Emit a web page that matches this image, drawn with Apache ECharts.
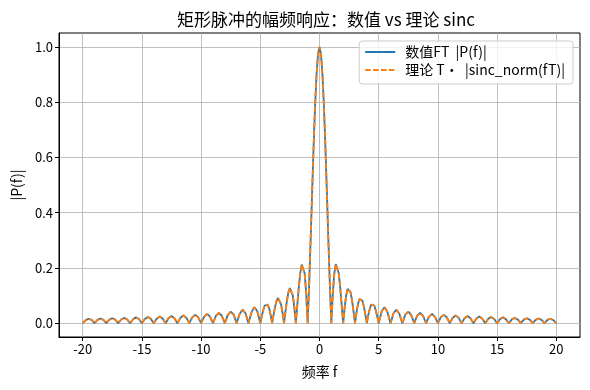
<!DOCTYPE html>
<html>
<head>
<meta charset="utf-8">
<script src="https://cdn.jsdelivr.net/npm/echarts@6/dist/echarts.min.js"></script>
<style>html,body{margin:0;padding:0;background:#fff}#c{width:590px;height:390px}</style>
</head>
<body>
<div id="c"></div>
<script>
const freqs = [
-20,-19.75,-19.5,-19.25,-19,-18.75,-18.5,-18.25,-18,-17.75,-17.5,-17.25,-17,-16.75,-16.5,-16.25,-16,-15.75,-15.5,-15.25,
-15,-14.75,-14.5,-14.25,-14,-13.75,-13.5,-13.25,-13,-12.75,-12.5,-12.25,-12,-11.75,-11.5,-11.25,-11,-10.75,-10.5,-10.25,
-10,-9.75,-9.5,-9.25,-9,-8.75,-8.5,-8.25,-8,-7.75,-7.5,-7.25,-7,-6.75,-6.5,-6.25,-6,-5.75,-5.5,-5.25,
-5,-4.875,-4.75,-4.625,-4.5,-4.375,-4.25,-4.125,-4,-3.875,-3.75,-3.625,-3.5,-3.375,-3.25,-3.125,
-3,-2.875,-2.75,-2.625,-2.5,-2.375,-2.25,-2.125,-2,-1.875,-1.75,-1.625,-1.5,-1.375,-1.25,-1.125,
-1,-0.875,-0.75,-0.625,-0.5,-0.375,-0.25,-0.125,
0,0.125,0.25,0.375,0.5,0.625,0.75,0.875,1,1.125,1.25,1.375,1.5,1.625,1.75,1.875,
2,2.125,2.25,2.375,2.5,2.625,2.75,2.875,3,3.125,3.25,3.375,3.5,3.625,3.75,3.875,
4,4.125,4.25,4.375,4.5,4.625,4.75,4.875,5,
5.25,5.5,5.75,6,6.25,6.5,6.75,7,7.25,7.5,7.75,8,8.25,8.5,8.75,9,9.25,9.5,9.75,10,
10.25,10.5,10.75,11,11.25,11.5,11.75,12,12.25,12.5,12.75,13,13.25,13.5,13.75,14,14.25,14.5,14.75,15,
15.25,15.5,15.75,16,16.25,16.5,16.75,17,17.25,17.5,17.75,18,18.25,18.5,18.75,19,19.25,19.5,19.75,20
];
const magNumeric = [
0,0.011,0.016,0.012, 0,0.012,0.017,0.012, 0,0.013,0.018,0.013, 0,0.013,0.019,0.014, 0,0.014,0.021,0.015,
0,0.015,0.022,0.016, 0,0.016,0.024,0.017, 0,0.018,0.026,0.018, 0,0.019,0.028,0.020, 0,0.021,0.030,0.022,
0,0.023,0.034,0.024, 0,0.026,0.037,0.027, 0,0.029,0.042,0.031, 0,0.033,0.049,0.036, 0,0.039,0.058,0.043,
0,0.025,0.047,0.064,0.071,0.067,0.053,0.030, 0,0.031,0.060,0.081,0.091,0.087,0.069,0.039,
0,0.042,0.082,0.112,0.127,0.124,0.100,0.057, 0,0.065,0.129,0.181,0.212,0.214,0.180,0.108,
0,0.139,0.300,0.471,0.637,0.784,0.900,0.974,
1,0.974,0.900,0.784,0.637,0.471,0.300,0.139, 0,0.108,0.180,0.214,0.212,0.181,0.129,0.065,
0,0.057,0.100,0.124,0.127,0.112,0.082,0.042, 0,0.039,0.069,0.087,0.091,0.081,0.060,0.031,
0,0.030,0.053,0.067,0.071,0.064,0.047,0.025, 0,
0.043,0.058,0.039,0, 0.036,0.049,0.033,0, 0.031,0.042,0.029,0, 0.027,0.037,0.026,0, 0.024,0.034,0.023,0,
0.022,0.030,0.021,0, 0.020,0.028,0.019,0, 0.018,0.026,0.018,0, 0.017,0.024,0.016,0, 0.016,0.022,0.015,0,
0.015,0.021,0.014,0, 0.014,0.019,0.013,0, 0.013,0.018,0.013,0, 0.012,0.017,0.012,0, 0.012,0.016,0.011,0
];
// theoretical curve coincides with the numeric one in the picture
const magTheory = magNumeric.slice();
const xTicks = [-20,-15,-10,-5,0,5,10,15,20];
const yTicks = [0,0.2,0.4,0.6,0.8,1.0];
const seriesNames = ['数值FT  |P(f)|', '理论 T·  |sinc_norm(fT)|'];

const FONT = '"Noto Sans CJK SC", "Noto Sans", sans-serif';
const chart = echarts.init(document.getElementById('c'), null, {renderer: 'canvas'});
const axisCommon = {
  axisLine: {show: true, onZero: false, lineStyle: {color: '#000', width: 1}},
  axisTick: {show: true, inside: false, length: 4, lineStyle: {color: '#000', width: 1}},
  splitLine: {show: true, lineStyle: {color: '#b0b0b0', width: 0.8}},
  nameTextStyle: {color: '#000', fontSize: 14, fontFamily: FONT},
  nameLocation: 'middle'
};
chart.setOption({
  animation: false,
  backgroundColor: '#fff',
  title: {
    text: '矩形脉冲的幅频响应：数值 vs 理论 sinc',
    left: 321, top: 6, textAlign: 'center',
    textStyle: {fontSize: 17, fontWeight: 'normal', color: '#000', fontFamily: FONT}
  },
  grid: {left: 59, right: 10, top: 33, bottom: 53, show: true, borderColor: '#000', borderWidth: 1, containLabel: false},
  legend: {
    orient: 'vertical', right: 17, top: 41,
    padding: [4, 8, 7, 5], itemGap: 4, itemWidth: 30, itemHeight: 16,
    backgroundColor: 'rgba(255,255,255,0.8)', borderColor: '#cccccc', borderWidth: 1, borderRadius: 3,
    itemStyle: {color: 'rgba(0,0,0,0)', borderWidth: 0, opacity: 0},
    textStyle: {fontSize: 14, color: '#000', fontFamily: FONT, padding: [0, 0, 0, 5]},
    data: seriesNames
  },
  xAxis: Object.assign({}, axisCommon, {
    type: 'value', min: -22, max: 22,
    name: '频率 f', nameGap: 28,
    axisTick: Object.assign({}, axisCommon.axisTick, {customValues: xTicks}),
    axisLabel: {customValues: xTicks, color: '#000', fontSize: 13, fontFamily: FONT, margin: 6, formatter: v => String(v)}
  }),
  yAxis: Object.assign({}, axisCommon, {
    type: 'value', min: -0.05, max: 1.05,
    name: '|P(f)|', nameGap: 34,
    axisTick: Object.assign({}, axisCommon.axisTick, {customValues: yTicks}),
    axisLabel: {customValues: yTicks, color: '#000', fontSize: 13, fontFamily: FONT, margin: 6, formatter: v => v.toFixed(1)}
  }),
  series: [
    {
      name: seriesNames[0], type: 'line', showSymbol: false, symbol: 'none',
      data: freqs.map((f, i) => [f, magNumeric[i]]),
      lineStyle: {color: '#1f77b4', width: 1.8}, itemStyle: {color: '#1f77b4'}, z: 3
    },
    {
      name: seriesNames[1], type: 'line', showSymbol: false, symbol: 'none',
      data: freqs.map((f, i) => [f, magTheory[i]]),
      lineStyle: {color: '#ff7f0e', width: 1.8, type: [5.5, 2.4]}, itemStyle: {color: '#ff7f0e'}, z: 4
    }
  ]
});
</script>
</body>
</html>
